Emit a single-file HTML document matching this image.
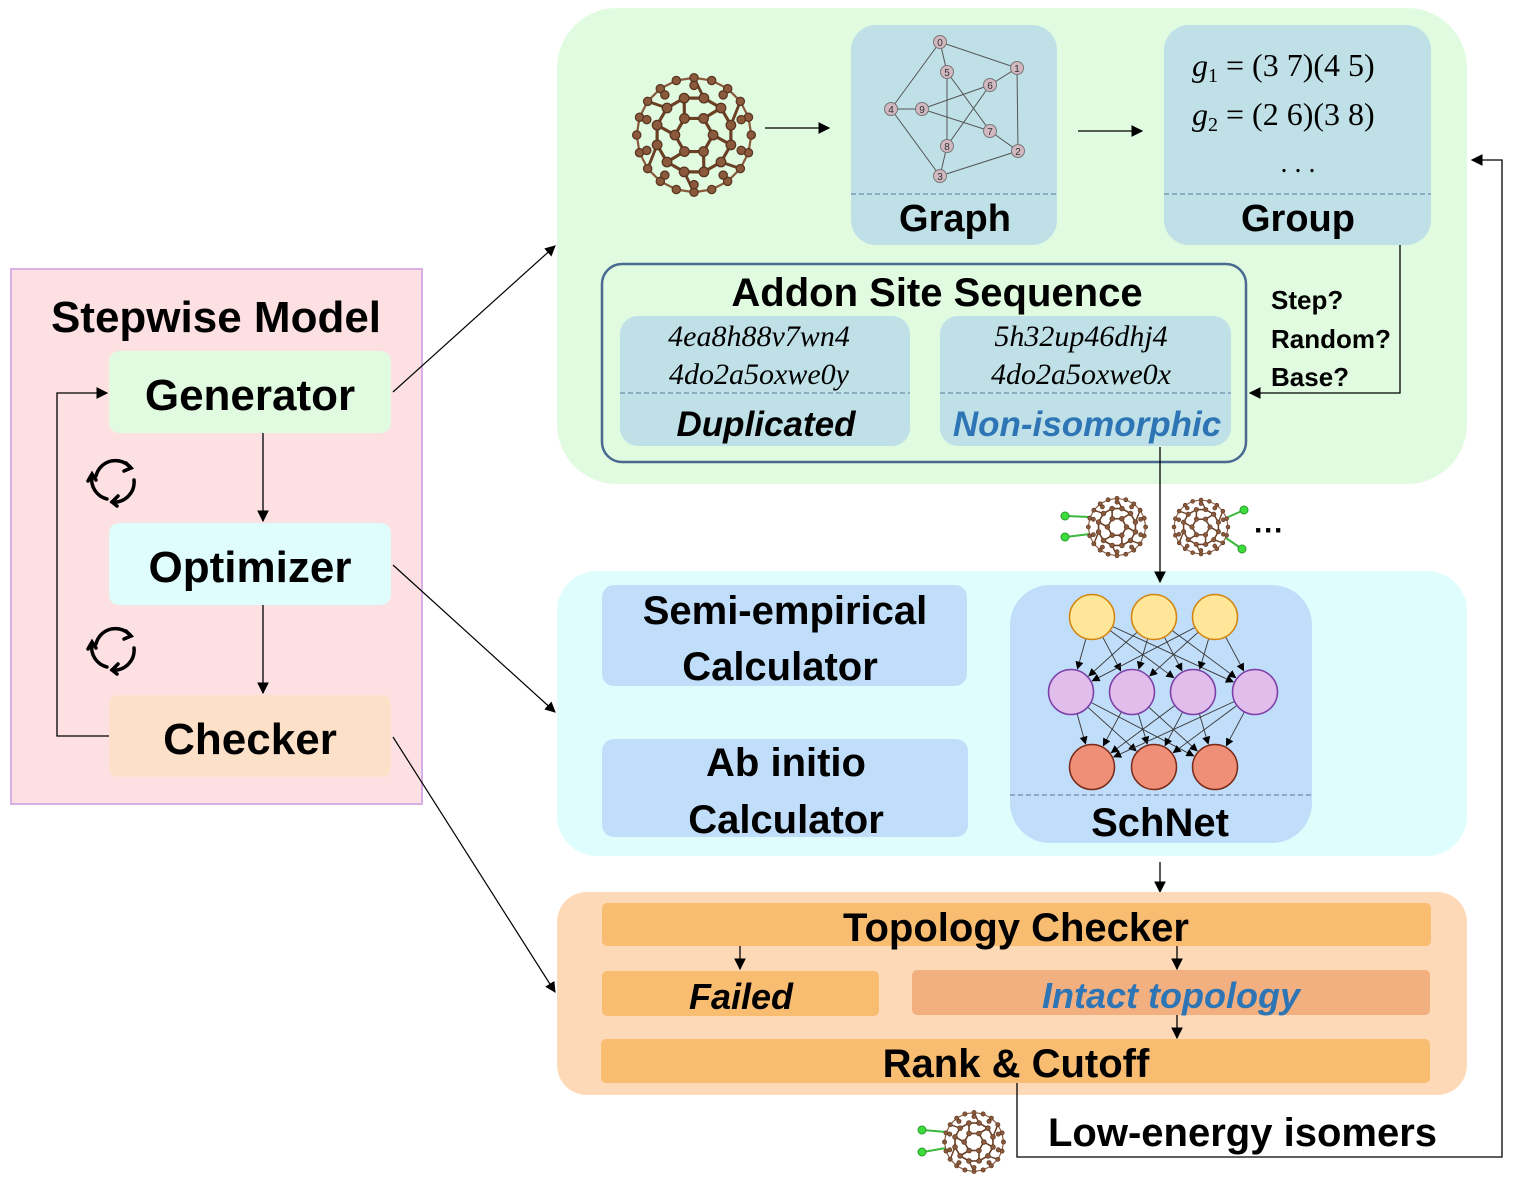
<!DOCTYPE html>
<html><head><meta charset="utf-8"><style>
html,body{margin:0;padding:0;background:#fff;}
svg{display:block;}
text{font-family:"Liberation Sans","DejaVu Sans",sans-serif;}
.b{font-weight:bold;}
text.m,text.ser{font-family:"Liberation Serif","DejaVu Serif",serif;}
.m{font-style:italic;}
</style></head><body>
<svg id="s" width="1515" height="1187" viewBox="0 0 1515 1187" xmlns="http://www.w3.org/2000/svg">
<defs>
<marker id="a" viewBox="0 0 10 10" refX="9" refY="5" markerWidth="9" markerHeight="9" orient="auto-start-reverse"><path d="M0,0L10,5L0,10z" fill="#000"/></marker>
<marker id="sa" viewBox="0 0 10 10" refX="9" refY="5" markerWidth="9" markerHeight="9" orient="auto"><path d="M0,0L10,5L0,10z" fill="#000"/></marker>
<symbol id="ful" viewBox="-1.1 -1.1 2.2 2.2"><g id="fg"></g></symbol>
</defs>

<!-- left pink panel -->
<rect x="11" y="269" width="411" height="535" fill="#fde0e2" stroke="#d9b0e6" stroke-width="2"/>
<text x="216" y="332" class="b" font-size="44" text-anchor="middle">Stepwise Model</text>
<rect x="109" y="351" width="282" height="82" rx="10" fill="#e0fbe0"/>
<text x="250" y="410" class="b" font-size="44" text-anchor="middle">Generator</text>
<rect x="109" y="523" width="282" height="82" rx="10" fill="#e0fdfd"/>
<text x="250" y="582" class="b" font-size="44" text-anchor="middle">Optimizer</text>
<rect x="109" y="695" width="282" height="82" rx="10" fill="#fde0c8"/>
<text x="250" y="754" class="b" font-size="44" text-anchor="middle">Checker</text>
<g stroke="#000" stroke-width="1.3" fill="none">
<line x1="263" y1="433" x2="263" y2="521" marker-end="url(#a)"/>
<line x1="263" y1="605" x2="263" y2="693" marker-end="url(#a)"/>
<polyline points="109,736 57,736 57,393 107,393" marker-end="url(#a)"/>
</g>
<g id="cyc" stroke="#000" stroke-width="3.5" fill="none" stroke-linecap="round">
<path d="M96,476 A20,20 0 0 1 131,468"/><path d="M126,463 L131,468 L124,471"/>
<path d="M134,480 A20,20 0 0 1 112,502"/><path d="M118,496 L112,502 L117,506"/>
<path d="M107,499 A20,20 0 0 1 92,476"/><path d="M88,481 L92,474 L96,480"/>
</g>
<use href="#cyc" y="168"/>

<!-- cross arrows -->
<g stroke="#000" stroke-width="1.2" fill="none">
<line x1="393" y1="392" x2="555" y2="246" marker-end="url(#a)"/>
<line x1="393" y1="565" x2="555" y2="712" marker-end="url(#a)"/>
<line x1="393" y1="737" x2="555" y2="992" marker-end="url(#a)"/>
</g>

<!-- green panel -->
<rect x="557" y="8" width="910" height="476" rx="60" fill="#e0fbe0"/>
<use href="#ful" x="624" y="65" width="140" height="140"/>
<line x1="765" y1="128" x2="829" y2="128" stroke="#000" stroke-width="1.3" marker-end="url(#a)"/>
<line x1="1078" y1="131" x2="1142" y2="131" stroke="#000" stroke-width="1.3" marker-end="url(#a)"/>
<rect x="851" y="25" width="206" height="220" rx="25" fill="#bfe0e6"/>
<line x1="851" y1="194" x2="1057" y2="194" stroke="#5b7a99" stroke-dasharray="5,3"/>
<g stroke="#555" stroke-width="1" fill="none">
<path d="M940,42L1017,68M940,42L891,109M940,42L947,72M1017,68L1018,151M1017,68L990,85M891,109L922,109M891,109L940,176M947,72L947,146M947,72L990,131M922,109L990,85M922,109L990,131M990,85L947,146M990,131L1018,151M947,146L940,176M940,176L1018,151"/>
</g>
<g font-size="10" text-anchor="middle" fill="#333">
<g fill="#d2b8c0" stroke="#777">
<circle cx="940" cy="42" r="6.5"/><circle cx="1017" cy="68" r="6.5"/><circle cx="1018" cy="151" r="6.5"/><circle cx="940" cy="176" r="6.5"/><circle cx="891" cy="109" r="6.5"/><circle cx="947" cy="72" r="6.5"/><circle cx="990" cy="85" r="6.5"/><circle cx="990" cy="131" r="6.5"/><circle cx="947" cy="146" r="6.5"/><circle cx="922" cy="109" r="6.5"/>
</g>
<text x="940" y="46">0</text><text x="1017" y="72">1</text><text x="1018" y="155">2</text><text x="940" y="180">3</text><text x="891" y="113">4</text><text x="947" y="76">5</text><text x="990" y="89">6</text><text x="990" y="135">7</text><text x="947" y="150">8</text><text x="922" y="113">9</text>
</g>
<text x="955" y="231" class="b" font-size="38" text-anchor="middle">Graph</text>

<rect x="1164" y="25" width="267" height="220" rx="25" fill="#bfe0e6"/>
<line x1="1164" y1="194" x2="1431" y2="194" stroke="#5b7a99" stroke-dasharray="5,3"/>
<text x="1192" y="76" font-size="32" class="ser"><tspan font-style="italic">g</tspan><tspan font-size="20" dy="6">1</tspan><tspan dy="-6"> = (3 7)(4 5)</tspan></text>
<text x="1192" y="125" font-size="32" class="ser"><tspan font-style="italic">g</tspan><tspan font-size="20" dy="6">2</tspan><tspan dy="-6"> = (2 6)(3 8)</tspan></text>
<text x="1298" y="172" font-size="28" text-anchor="middle" class="ser">. . .</text>
<text x="1298" y="231" class="b" font-size="38" text-anchor="middle">Group</text>

<rect x="602" y="264" width="644" height="198" rx="20" fill="none" stroke="#4a6a90" stroke-width="2.5"/>
<text x="937" y="306" class="b" font-size="40" text-anchor="middle">Addon Site Sequence</text>
<rect x="620" y="316" width="290" height="130" rx="18" fill="#bfe0e6"/>
<rect x="940" y="316" width="291" height="130" rx="18" fill="#bfe0e6"/>
<line x1="620" y1="393" x2="910" y2="393" stroke="#5b7a99" stroke-dasharray="5,3"/>
<line x1="940" y1="393" x2="1231" y2="393" stroke="#5b7a99" stroke-dasharray="5,3"/>
<text x="759" y="346" class="m" font-size="30" text-anchor="middle">4ea8h88v7wn4</text>
<text x="759" y="384" class="m" font-size="30" text-anchor="middle">4do2a5oxwe0y</text>
<text x="1081" y="346" class="m" font-size="30" text-anchor="middle">5h32up46dhj4</text>
<text x="1081" y="384" class="m" font-size="30" text-anchor="middle">4do2a5oxwe0x</text>
<text x="766" y="436" class="b" font-style="italic" font-size="35" text-anchor="middle">Duplicated</text>
<text x="1087" y="436" class="b" font-style="italic" font-size="35" text-anchor="middle" fill="#2e75b6">Non-isomorphic</text>
<g class="b" font-size="26" font-weight="bold"><text x="1271" y="309">Step?</text><text x="1271" y="348">Random?</text><text x="1271" y="386">Base?</text></g>
<polyline points="1400,245 1400,393 1250,393" fill="none" stroke="#000" stroke-width="1.3" marker-end="url(#a)"/>

<!-- small fullerenes -->
<g stroke="#3cb83c" stroke-width="2"><line x1="1066" y1="516" x2="1090" y2="517"/><line x1="1066" y1="537" x2="1090" y2="534"/><line x1="1244" y1="510" x2="1226" y2="518"/><line x1="1242" y1="549" x2="1226" y2="538"/><line x1="923" y1="1130" x2="946" y2="1132"/><line x1="923" y1="1152" x2="946" y2="1148"/></g>
<g fill="#3cdc3c" stroke="#2a9a2a"><circle cx="1065" cy="516" r="4"/><circle cx="1065" cy="537" r="4"/><circle cx="1244" cy="510" r="4"/><circle cx="1242" cy="549" r="4"/><circle cx="922" cy="1130" r="4"/><circle cx="922" cy="1152" r="4"/></g>
<use href="#ful" x="1082" y="492" width="70" height="70"/>
<use href="#ful" x="1168" y="494" width="66" height="66"/>
<use href="#ful" x="938" y="1106" width="72" height="72"/>
<text x="1254" y="540" font-size="30" class="b">···</text>

<!-- cyan panel -->
<rect x="557" y="571" width="910" height="285" rx="40" fill="#e0fdfd"/>
<line x1="1160" y1="447" x2="1160" y2="582" stroke="#000" stroke-width="1.3" marker-end="url(#a)"/>
<rect x="602" y="585" width="365" height="101" rx="12" fill="#c0defa"/>
<text x="785" y="624" class="b" font-size="40" text-anchor="middle">Semi-empirical</text>
<text x="780" y="680" class="b" font-size="40" text-anchor="middle">Calculator</text>
<rect x="602" y="739" width="366" height="98" rx="12" fill="#c0defa"/>
<text x="786" y="776" class="b" font-size="40" text-anchor="middle">Ab initio</text>
<text x="786" y="833" class="b" font-size="40" text-anchor="middle">Calculator</text>
<rect x="1010" y="585" width="302" height="258" rx="40" fill="#c0defa"/>
<line x1="1010" y1="795" x2="1312" y2="795" stroke="#5b7a99" stroke-dasharray="5,3"/>
<text x="1160" y="836" class="b" font-size="40" text-anchor="middle">SchNet</text>
<g id="nn" stroke="#333" stroke-width="0.9"></g>
<line x1="1160" y1="862" x2="1160" y2="892" stroke="#000" stroke-width="1.3" marker-end="url(#a)"/>

<!-- orange panel -->
<rect x="557" y="892" width="910" height="203" rx="30" fill="#fdd9b8"/>
<rect x="602" y="903" width="829" height="43" rx="5" fill="#f9bd72"/>
<text x="1016" y="941" class="b" font-size="40" text-anchor="middle">Topology Checker</text>
<rect x="602" y="971" width="277" height="45" rx="5" fill="#f9bd72"/>
<text x="741" y="1009" class="b" font-style="italic" font-size="36" text-anchor="middle">Failed</text>
<rect x="912" y="970" width="518" height="45" rx="5" fill="#f2b080"/>
<text x="1171" y="1008" class="b" font-style="italic" font-size="36" text-anchor="middle" fill="#2e75b6">Intact topology</text>
<rect x="601" y="1039" width="829" height="44" rx="5" fill="#f9bd72"/>
<text x="1016" y="1077" class="b" font-size="40" text-anchor="middle">Rank &amp; Cutoff</text>
<g stroke="#000" stroke-width="1.3" fill="none">
<line x1="740" y1="946" x2="740" y2="969" marker-end="url(#a)"/>
<line x1="1177" y1="946" x2="1177" y2="969" marker-end="url(#a)"/>
<line x1="1177" y1="1015" x2="1177" y2="1038" marker-end="url(#a)"/>
<polyline points="1017,1083 1017,1157 1502,1157 1502,160 1472,160" marker-end="url(#a)"/>
</g>
<text x="1048" y="1146" class="b" font-size="40">Low-energy isomers</text>
</svg>
<script>
(function(){
var NS="http://www.w3.org/2000/svg";
function el(p,t,a){var e=document.createElementNS(NS,t);for(var k in a)e.setAttribute(k,a[k]);p.appendChild(e);return e;}
var g=document.getElementById("fg");
function ring(n,r,off){var a=[];for(var i=0;i<n;i++){var t=off+i*2*Math.PI/n;a.push([r*Math.cos(t),r*Math.sin(t)]);}return a;}
var h=ring(6,0.3,0),m=ring(12,0.6,Math.PI/12),o=ring(20,0.9,0),o2=ring(10,0.78,Math.PI/10);
function ln(p,q,w,c){el(g,"line",{x1:p[0],y1:p[1],x2:q[0],y2:q[1],stroke:c||"#6b3f24","stroke-width":w||0.05});}
for(var i=0;i<20;i++)ln(o[i],o[(i+1)%20],0.035,"#8a5a3c");
for(var i=0;i<10;i++){ln(o2[i],o[(2*i+1)%20],0.035,"#8a5a3c");}
for(var i=0;i<12;i++){ln(m[i],m[(i+1)%12]);}
for(var i=0;i<6;i++){ln(h[i],h[(i+1)%6]);ln(h[i],m[2*i]);}
for(var i=0;i<12;i+=2){ln(m[i+1],o[Math.round((i+1)*20/12)%20],0.045);}
[o,o2,m,h].forEach(function(A,k){A.forEach(function(p){el(g,"circle",{cx:p[0],cy:p[1],r:k<2?0.065:0.075,fill:"#8b5a3c",stroke:"#5a3520","stroke-width":0.02});});});
var nn=document.getElementById("nn");
var L1=[[1092,617],[1154,617],[1215,617]],L2=[[1071,692],[1132,692],[1193,692],[1255,692]],L3=[[1092,767],[1154,767],[1215,767]];
function conn(A,B,r){A.forEach(function(p){B.forEach(function(q){var dx=q[0]-p[0],dy=q[1]-p[1],d=Math.hypot(dx,dy);el(nn,"line",{x1:p[0]+dx/d*r,y1:p[1]+dy/d*r,x2:q[0]-dx/d*(r+1),y2:q[1]-dy/d*(r+1),"marker-end":"url(#sa)"});});});}
conn(L1,L2,23);conn(L2,L3,23);
L1.forEach(function(p){el(nn,"circle",{cx:p[0],cy:p[1],r:22.5,fill:"#ffe699",stroke:"#d4850f","stroke-width":1.5});});
L2.forEach(function(p){el(nn,"circle",{cx:p[0],cy:p[1],r:22.5,fill:"#e1bdec",stroke:"#7b3fa6","stroke-width":1.5});});
L3.forEach(function(p){el(nn,"circle",{cx:p[0],cy:p[1],r:22.5,fill:"#ef8f78",stroke:"#7a2a18","stroke-width":1.5});});
})();
</script>
</body></html>
